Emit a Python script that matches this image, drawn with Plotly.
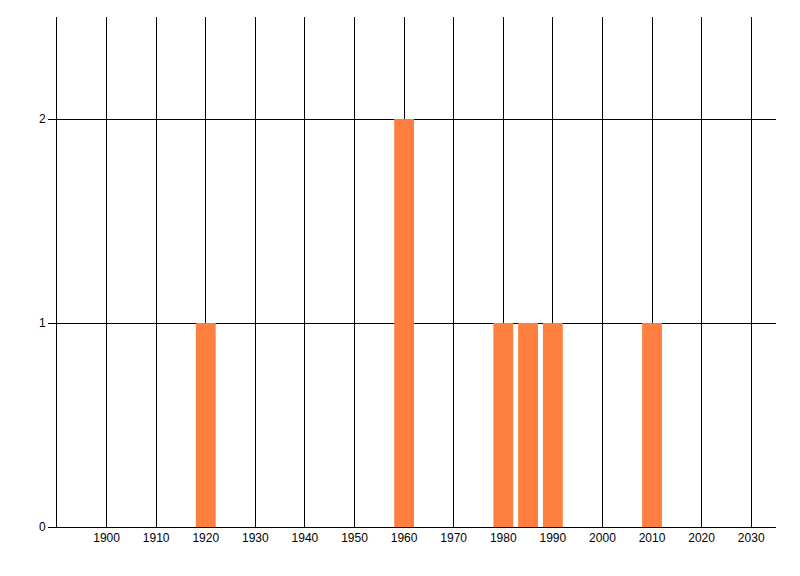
import plotly.graph_objects as go

years = [1920, 1960, 1980, 1985, 1990, 2010]
counts = [1, 2, 1, 1, 1, 1]
x_ticks = list(range(1900, 2031, 10))
y_ticks = [0, 1, 2]

fig = go.Figure(go.Bar(x=years, y=counts, width=4, marker=dict(color="#FF7F40", line=dict(width=0))))

fig.update_layout(
    width=800, height=576,
    margin=dict(l=49, r=32, t=9, b=57),
    paper_bgcolor="white", plot_bgcolor="white",
    showlegend=False,
    font=dict(family="Liberation Sans, Arial, sans-serif", size=12, color="black"),
)
fig.update_xaxes(
    range=[1890, 2035], tickvals=x_ticks, ticktext=[str(v) for v in x_ticks],
    showgrid=True, gridcolor="black", gridwidth=1,
    showline=True, linecolor="black", linewidth=1,
    ticks="", zeroline=False, tickfont=dict(size=12),
)
fig.update_yaxes(
    range=[0, 2.5], tickvals=y_ticks,
    showgrid=True, gridcolor="black", gridwidth=1,
    showline=True, linecolor="black", linewidth=1,
    ticks="outside", ticklen=8, tickcolor="black", zeroline=False,
    tickfont=dict(size=12),
)
fig.write_html("out.html")
